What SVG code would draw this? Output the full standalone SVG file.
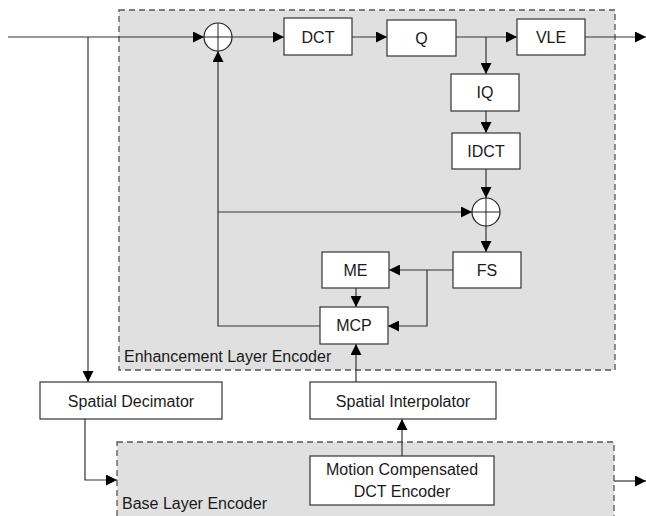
<svg xmlns="http://www.w3.org/2000/svg" width="646" height="516" viewBox="0 0 646 516">
<style>
.frame{fill:#e0e0e0;stroke:#555;stroke-width:1.3;stroke-dasharray:6,4}
.box{fill:#fff;stroke:#333;stroke-width:1.2}
.sum{fill:#fff;stroke:#222;stroke-width:1.2}
.cross{stroke:#222;stroke-width:1}
.wire{fill:none;stroke:#333;stroke-width:1.2}
text{font-family:"Liberation Sans",Arial,sans-serif;font-size:16px;fill:#1a1a1a}
.c{text-anchor:middle}
</style>
<defs>
<marker id="arr" markerUnits="userSpaceOnUse" markerWidth="11" markerHeight="11" refX="11" refY="5.5" orient="auto">
<path d="M0,0 L11,5.5 L0,11 z" fill="#000"/>
</marker>
</defs>
<rect width="646" height="516" fill="#fff"/>
<g id="enhancement-layer">
<rect class="frame" x="119" y="10" width="496" height="360"/>
<text x="124" y="362">Enhancement Layer Encoder</text>
</g>
<g id="base-layer">
<rect class="frame" x="117" y="442" width="497" height="90"/>
<text x="122" y="509">Base Layer Encoder</text>
</g>
<g id="connectors">
<path class="wire" d="M8,37 H204" marker-end="url(#arr)"/>
<path class="wire" d="M88,37 V382" marker-end="url(#arr)"/>
<path class="wire" d="M232,37 H284" marker-end="url(#arr)"/>
<path class="wire" d="M352,37 H387" marker-end="url(#arr)"/>
<path class="wire" d="M456,37 H517" marker-end="url(#arr)"/>
<path class="wire" d="M486,37 V74" marker-end="url(#arr)"/>
<path class="wire" d="M585,37 H646" marker-end="url(#arr)"/>
<path class="wire" d="M486,110 V133" marker-end="url(#arr)"/>
<path class="wire" d="M486,169 V198" marker-end="url(#arr)"/>
<path class="wire" d="M486,226 V252" marker-end="url(#arr)"/>
<path class="wire" d="M453,270 H389" marker-end="url(#arr)"/>
<path class="wire" d="M427,270 V326 H388" marker-end="url(#arr)"/>
<path class="wire" d="M356,288 V307" marker-end="url(#arr)"/>
<path class="wire" d="M320,326 H218 V51" marker-end="url(#arr)"/>
<path class="wire" d="M218,212 H472" marker-end="url(#arr)"/>
<path class="wire" d="M356,382 V344" marker-end="url(#arr)"/>
<path class="wire" d="M85,419 V480 H117" marker-end="url(#arr)"/>
<path class="wire" d="M402,456 V419" marker-end="url(#arr)"/>
<path class="wire" d="M614,481 H646" marker-end="url(#arr)"/>
</g>
<g id="sum1">
<circle class="sum" cx="218" cy="37" r="14"/>
<path class="cross" d="M204,37 H232 M218,23 V51"/>
</g>
<g id="sum2">
<circle class="sum" cx="486" cy="212" r="14"/>
<path class="cross" d="M472,212 H500 M486,198 V226"/>
</g>
<g id="dct">
<rect class="box" x="284" y="18" width="68" height="37"/>
<text class="c" x="318" y="43">DCT</text>
</g>
<g id="q">
<rect class="box" x="387" y="20" width="69" height="36"/>
<text class="c" x="421.5" y="44">Q</text>
</g>
<g id="vle">
<rect class="box" x="517" y="19" width="68" height="36"/>
<text class="c" x="551" y="43">VLE</text>
</g>
<g id="iq">
<rect class="box" x="451" y="74" width="68" height="37"/>
<text class="c" x="485" y="98">IQ</text>
</g>
<g id="idct">
<rect class="box" x="452" y="133" width="68" height="36"/>
<text class="c" x="486" y="157">IDCT</text>
</g>
<g id="fs">
<rect class="box" x="453" y="252" width="68" height="36"/>
<text class="c" x="487" y="276">FS</text>
</g>
<g id="me">
<rect class="box" x="322" y="252" width="67" height="36"/>
<text class="c" x="355.5" y="276">ME</text>
</g>
<g id="mcp">
<rect class="box" x="320" y="307" width="68" height="37"/>
<text class="c" x="354" y="331">MCP</text>
</g>
<g id="spatial-decimator">
<rect class="box" x="40" y="382" width="182" height="37"/>
<text class="c" x="131" y="407">Spatial Decimator</text>
</g>
<g id="spatial-interpolator">
<rect class="box" x="310" y="382" width="186" height="37"/>
<text class="c" x="403" y="407">Spatial Interpolator</text>
</g>
<g id="mc-dct-encoder">
<rect class="box" x="310" y="456" width="184" height="49"/>
<text class="c" x="402" y="475">Motion Compensated</text>
<text class="c" x="402" y="497">DCT Encoder</text>
</g>
</svg>
